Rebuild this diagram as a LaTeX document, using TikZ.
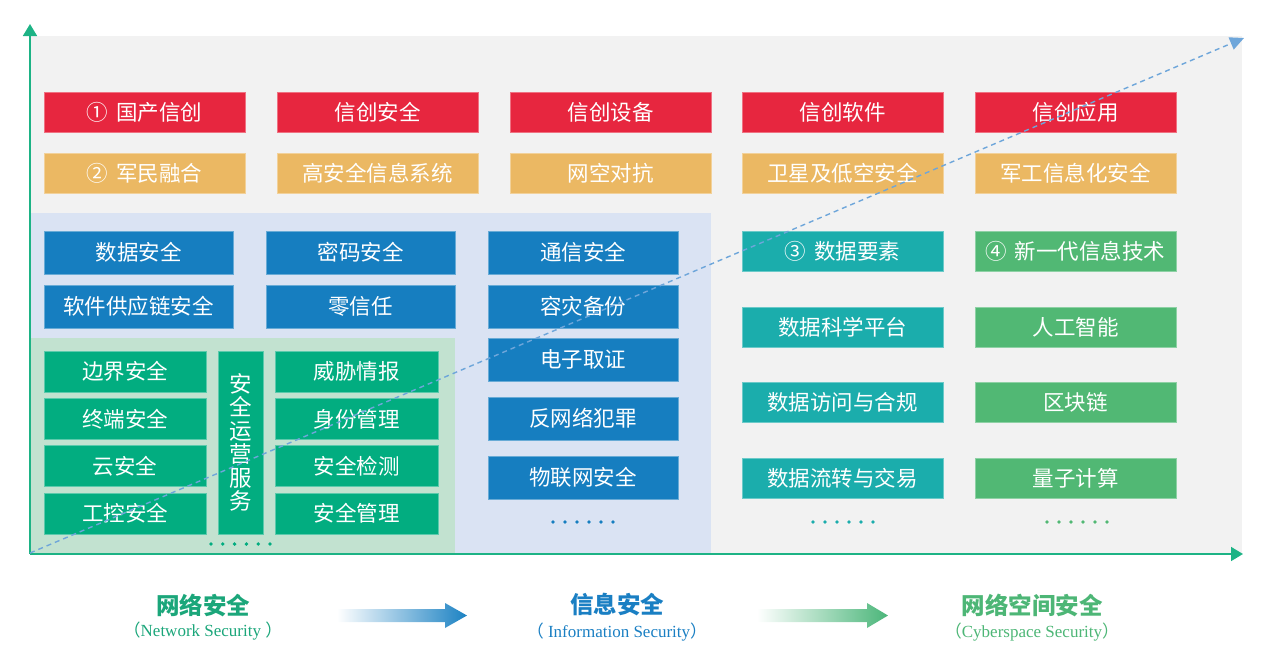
\documentclass[tikz,border=0pt]{standalone}
\usepackage{fontspec}
\newfontfamily\cjk{Noto Sans CJK SC}
\newfontfamily\serifl{Liberation Serif}
\usetikzlibrary{arrows.meta}
\definecolor{bggray}{HTML}{F2F2F2}
\definecolor{lblue}{HTML}{DAE3F3}
\definecolor{lgreen}{HTML}{C2E2D0}
\definecolor{cred}{HTML}{E7263F}
\definecolor{corange}{HTML}{EBB863}
\definecolor{cblue}{HTML}{167EC0}
\definecolor{cgreen}{HTML}{02AD80}
\definecolor{cteal}{HTML}{1BADAC}
\definecolor{cgreentwo}{HTML}{51B874}
\definecolor{caxis}{HTML}{1DB385}
\definecolor{cdash}{HTML}{6EA6DA}
\definecolor{tone}{HTML}{1BA67A}
\definecolor{ttwo}{HTML}{1A7FC3}
\definecolor{tthree}{HTML}{4DB676}
\definecolor{aonemid}{HTML}{82C9CB}
\definecolor{aoneend}{HTML}{1C82C3}
\definecolor{atwomid}{HTML}{8ECACF}
\definecolor{atwoend}{HTML}{4BB67A}
\tikzset{
  box/.style={rectangle, inner sep=0pt, outer sep=0pt, text=white,
    font=\cjk\fontsize{21.5}{24}\selectfont, fill=#1, draw=#1!65!white, line width=0.7pt},
  wh/.style 2 args={minimum width=#1, minimum height=#2},
  axisline/.style={draw=caxis, line width=1.6pt, -{Triangle[length=12pt,width=14pt]}},
  dashline/.style={draw=cdash, line width=1.4pt, dash pattern=on 5pt off 4pt,
    -{Triangle[length=14pt,width=13pt]}},
  title/.style={font=\cjk\bfseries\fontsize{23.5}{26}\selectfont, text=#1, inner sep=0pt},
  subtitle/.style={font=\serifl\fontsize{17}{20}\selectfont, text=#1, inner sep=0pt},
  dot/.style={fill=#1}
}
\begin{document}
\begin{tikzpicture}[x=1pt,y=-1pt]
\useasboundingbox (0,0) rectangle (1267,667);
% background regions
\fill[bggray] (30,36) rectangle (1242,554);
\fill[lblue] (30,213) rectangle (711,554);
\fill[lgreen] (30,338) rectangle (455,554);

% row 1 red
\node[box=cred, wh={201pt}{40pt}] (r1) at (144.5,112.5) {①\hspace{0.35em}国产信创};
\node[box=cred, wh={201pt}{40pt}] (r2) at (377.5,112.5) {信创安全};
\node[box=cred, wh={201pt}{40pt}] (r3) at (610.5,112.5) {信创设备};
\node[box=cred, wh={201pt}{40pt}] (r4) at (842.5,112.5) {信创软件};
\node[box=cred, wh={201pt}{40pt}] (r5) at (1075.5,112.5) {信创应用};
% row 2 orange
\node[box=corange, wh={201pt}{40pt}] (o1) at (144.5,173) {②\hspace{0.35em}军民融合};
\node[box=corange, wh={201pt}{40pt}] (o2) at (377.5,173) {高安全信息系统};
\node[box=corange, wh={201pt}{40pt}] (o3) at (610.5,173) {网空对抗};
\node[box=corange, wh={201pt}{40pt}] (o4) at (842.5,173) {卫星及低空安全};
\node[box=corange, wh={201pt}{40pt}] (o5) at (1075.5,173) {军工信息化安全};

% blue boxes
\node[box=cblue, wh={189pt}{43pt}] (b11) at (138.5,252.5) {数据安全};
\node[box=cblue, wh={189pt}{43pt}] (b12) at (138.5,306.5) {软件供应链安全};
\node[box=cblue, wh={189pt}{43pt}] (b21) at (360.5,252.5) {密码安全};
\node[box=cblue, wh={189pt}{43pt}] (b22) at (360.5,306.5) {零信任};
\node[box=cblue, wh={190pt}{43pt}] (b31) at (583,252.5) {通信安全};
\node[box=cblue, wh={190pt}{43pt}] (b32) at (583,306.5) {容灾备份};
\node[box=cblue, wh={190pt}{43pt}] (b33) at (583,359.5) {电子取证};
\node[box=cblue, wh={190pt}{43pt}] (b34) at (583,418.5) {反网络犯罪};
\node[box=cblue, wh={190pt}{43pt}] (b35) at (583,477.5) {物联网安全};
\foreach \i in {0,...,5} \fill[dot=cblue] (553+12*\i,522) circle (1.9pt);

% green boxes
\node[box=cgreen, wh={162pt}{41pt}] (g11) at (125,371.5) {边界安全};
\node[box=cgreen, wh={162pt}{41pt}] (g12) at (125,419) {终端安全};
\node[box=cgreen, wh={162pt}{41pt}] (g13) at (125,466) {云安全};
\node[box=cgreen, wh={162pt}{41pt}] (g14) at (125,513.5) {工控安全};
\node[box=cgreen, wh={45pt}{183pt}, align=center,
  font=\cjk\fontsize{22.5}{23.5}\selectfont] (gv) at (240.5,442.5)
  {安\\全\\运\\营\\服\\务};
\node[box=cgreen, wh={163pt}{41pt}] (g21) at (356.5,371.5) {威胁情报};
\node[box=cgreen, wh={163pt}{41pt}] (g22) at (356.5,419) {身份管理};
\node[box=cgreen, wh={163pt}{41pt}] (g23) at (356.5,466) {安全检测};
\node[box=cgreen, wh={163pt}{41pt}] (g24) at (356.5,513.5) {安全管理};
\foreach \i in {0,...,5} \fill[dot=cgreen] (211+11.8*\i,544) circle (1.9pt);

% teal boxes
\node[box=cteal, wh={201pt}{40pt}] (t1) at (842.5,251) {③\hspace{0.35em}数据要素};
\node[box=cteal, wh={201pt}{40pt}] (t2) at (842.5,327) {数据科学平台};
\node[box=cteal, wh={201pt}{40pt}] (t3) at (842.5,402) {数据访问与合规};
\node[box=cteal, wh={201pt}{40pt}] (t4) at (842.5,478) {数据流转与交易};
\foreach \i in {0,...,5} \fill[dot=cteal] (813+12*\i,522) circle (1.9pt);

% green2 boxes
\node[box=cgreentwo, wh={201pt}{40pt}] (n1) at (1075.5,251) {④\hspace{0.35em}新一代信息技术};
\node[box=cgreentwo, wh={201pt}{40pt}] (n2) at (1075.5,327) {人工智能};
\node[box=cgreentwo, wh={201pt}{40pt}] (n3) at (1075.5,402) {区块链};
\node[box=cgreentwo, wh={201pt}{40pt}] (n4) at (1075.5,478) {量子计算};
\foreach \i in {0,...,5} \fill[dot=cgreentwo] (1047+12*\i,522) circle (1.9pt);

% axes
\coordinate (O) at (30,554);
\coordinate (Yt) at (30,24);
\coordinate (Xt) at (1243,554);
\coordinate (Dt) at (1244,38);
\draw[axisline] (O) -- (Yt);
\draw[axisline] (O) -- (Xt);
\draw[dashline] (30,553) -- (Dt);

% bottom titles
\node[title=tone] (s1) at (203,605) {网络安全};
\node[subtitle=tone] (e1) at (203,631) {{\cjk （}Network Security {\cjk ）}};
\node[title=ttwo] (s2) at (617,605) {信息安全};
\node[subtitle=ttwo] (e2) at (617,632) {{\cjk （} Information Security{\cjk ）}};
\node[title=tthree] (s3) at (1032,605) {网络空间安全};
\node[subtitle=tthree] (e3) at (1032,632) {{\cjk （}Cyberspace Security{\cjk ）}};

% gradient arrows
\coordinate (a1) at (337,615.5);
\coordinate (a2) at (757,615.5);
\shade[left color=white, middle color=aonemid, right color=aoneend]
  ([shift={(0,-6.5)}]a1) -- ++(108,0) -- ++(0,-6) -- ++(22,12.5) -- ++(-22,12.5) -- ++(0,-6) -- ++(-108,0) -- cycle;
\shade[left color=white, middle color=atwomid, right color=atwoend]
  ([shift={(0,-6.5)}]a2) -- ++(110,0) -- ++(0,-6) -- ++(21,12.5) -- ++(-21,12.5) -- ++(0,-6) -- ++(-110,0) -- cycle;
\end{tikzpicture}
\end{document}
